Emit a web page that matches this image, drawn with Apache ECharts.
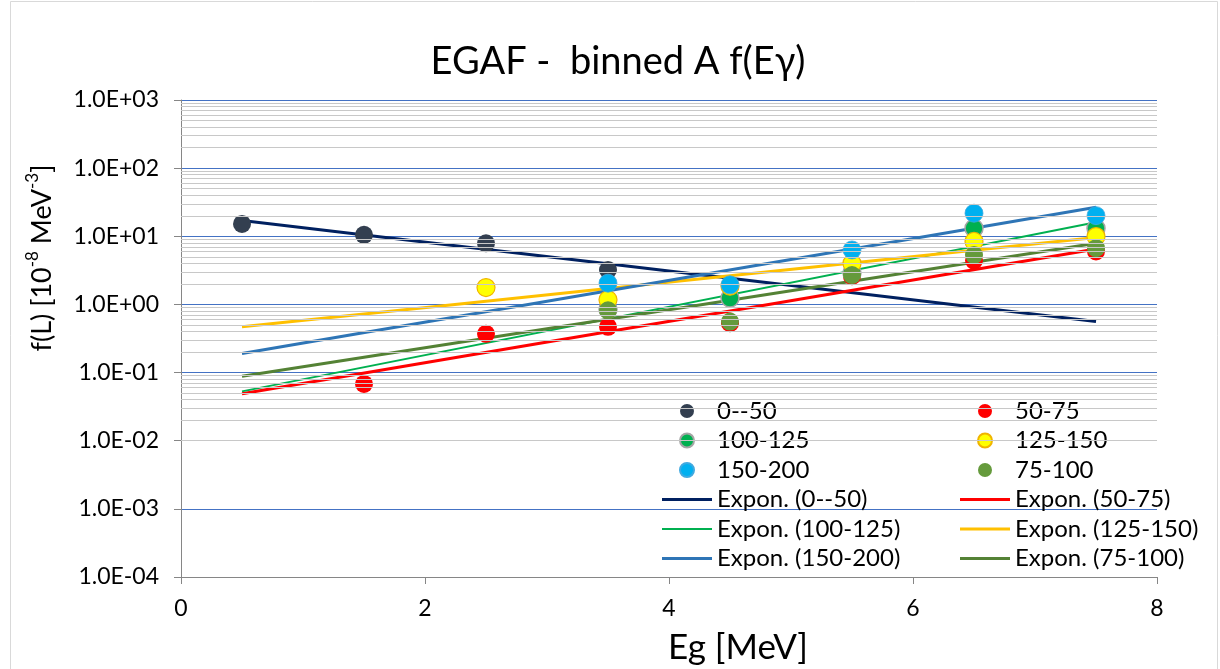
<!DOCTYPE html>
<html>
<head>
<meta charset="utf-8">
<script src="https://cdn.jsdelivr.net/npm/echarts@6/dist/echarts.min.js"></script>
<style>
html,body{margin:0;padding:0;background:#fff;}
#c{width:1220px;height:669px;}
</style>
</head>
<body>
<div id="c"></div>
<script>
// ---- data ----
const titleText = 'EGAF -  binned A f(E\u03b3)';
const xTicks = [0, 2, 4, 6, 8];
const yTickExponents = [-4, -3, -2, -1, 0, 1, 2, 3];

const seriesNames = ['0--50', '50-75', '100-125', '125-150', '150-200', '75-100'];

const eg_0_50 = [0.5, 1.5, 2.5, 3.5];
const f_0_50 = [15.2, 10.5, 7.9, 3.2];

const eg_50_75 = [1.5, 2.5, 3.5, 4.5, 5.5, 6.5, 7.5];
const f_50_75 = [0.068, 0.37, 0.47, 0.53, 2.6, 4.4, 6.0];

const eg_100_125 = [3.5, 4.5, 5.5, 6.5, 7.5];
const f_100_125 = [0.85, 1.24, 2.9, 13.1, 13.1];

const eg_125_150 = [2.5, 3.5, 4.5, 5.5, 6.5, 7.5];
const f_125_150 = [1.77, 1.17, 1.85, 4.0, 8.4, 9.9];

const eg_150_200 = [3.5, 4.5, 5.5, 6.5, 7.5];
const f_150_200 = [2.05, 1.94, 6.3, 21.8, 20.1];

const eg_75_100 = [3.5, 4.5, 5.5, 6.5, 7.5];
const f_75_100 = [0.82, 0.56, 2.7, 5.3, 6.7];

// exponential trend lines: end points (straight on a log axis)
const trendEg = [0.5, 7.5];
const trend_0_50 = [17.0, 0.56];
const trend_50_75 = [0.049, 6.5];
const trend_100_125 = [0.053, 16.1];
const trend_125_150 = [0.47, 9.6];
const trend_150_200 = [0.19, 26.7];
const trend_75_100 = [0.088, 7.9];

// ---- build ----
const FONT = 'Lato';
const zip = (xs, ys) => xs.map((x, i) => [x, ys[i]]);

const markerStyles = {
  '0--50':   {color: '#333F50'},
  '50-75':   {color: '#FF0000'},
  '100-125': {color: '#00B050', borderColor: '#A5A5A5', borderWidth: 1.5},
  '125-150': {color: '#FFFF00', borderColor: '#F0B400', borderWidth: 1.2},
  '150-200': {color: '#00B0F0', borderColor: '#3FA9E0', borderWidth: 0.8},
  '75-100':  {color: '#659A3C'}
};
const trendStyles = {
  '0--50':   {color: '#002060', width: 3},
  '50-75':   {color: '#FF0000', width: 3},
  '100-125': {color: '#00B050', width: 2},
  '125-150': {color: '#FFC000', width: 3},
  '150-200': {color: '#2E75B6', width: 3},
  '75-100':  {color: '#548235', width: 3}
};
const pointData = {
  '0--50': zip(eg_0_50, f_0_50),
  '50-75': zip(eg_50_75, f_50_75),
  '100-125': zip(eg_100_125, f_100_125),
  '125-150': zip(eg_125_150, f_125_150),
  '150-200': zip(eg_150_200, f_150_200),
  '75-100': zip(eg_75_100, f_75_100)
};
const trendData = {
  '0--50': zip(trendEg, trend_0_50),
  '50-75': zip(trendEg, trend_50_75),
  '100-125': zip(trendEg, trend_100_125),
  '125-150': zip(trendEg, trend_125_150),
  '150-200': zip(trendEg, trend_150_200),
  '75-100': zip(trendEg, trend_75_100)
};

// minor gridlines at 2..9 x 10^k (axis styling)
const minorLines = [];
for (let k = yTickExponents[0]; k < yTickExponents[yTickExponents.length - 1]; k++) {
  for (let m = 2; m <= 9; m++) minorLines.push({yAxis: m * Math.pow(10, k)});
}

const series = [];
series.push({
  name: '_minorgrid', type: 'line', data: [], z: 1, silent: true,
  markLine: {
    silent: true, symbol: ['none', 'none'], label: {show: false},
    lineStyle: {color: '#C8C8C8', width: 1, type: 'solid'},
    emphasis: {disabled: true},
    animation: false,
    data: minorLines
  }
});
seriesNames.forEach(n => {
  series.push({
    name: 'Expon. (' + n + ')', type: 'line', data: trendData[n], z: 3,
    symbol: 'none', showSymbol: false, silent: true,
    lineStyle: {color: trendStyles[n].color, width: trendStyles[n].width},
    itemStyle: {color: trendStyles[n].color}
  });
});
seriesNames.forEach(n => {
  series.push({
    name: n, type: 'scatter', data: pointData[n], z: 4,
    symbol: 'circle', symbolSize: 18, silent: true,
    itemStyle: Object.assign({opacity: 1}, markerStyles[n])
  });
});

function fmtExp(v) {
  const e = Math.round(Math.log10(v));
  const sign = e < 0 ? '-' : '+';
  const a = Math.abs(e);
  return '1.0E' + sign + (a < 10 ? '0' + a : a);
}

function legendItem(n) {
  if (n.indexOf('Expon.') === 0) {
    const key = n.slice(8, -1);
    const w = trendStyles[key].width;
    return {name: n, icon: 'path://M0,0H50V' + w + 'H0Z'};
  }
  return {name: n, icon: 'circle'};
}

const legendText = {fontFamily: FONT, fontSize: 24, color: '#000', lineHeight: 24};
const col1 = [seriesNames[0], seriesNames[2], seriesNames[4],
  'Expon. (' + seriesNames[0] + ')', 'Expon. (' + seriesNames[2] + ')', 'Expon. (' + seriesNames[4] + ')'];
const col2 = [seriesNames[1], seriesNames[3], seriesNames[5],
  'Expon. (' + seriesNames[1] + ')', 'Expon. (' + seriesNames[3] + ')', 'Expon. (' + seriesNames[5] + ')'];

const legendBase = {
  orient: 'vertical', top: 399, itemWidth: 50, itemHeight: 14, itemGap: 5.5,
  selectedMode: false, textStyle: legendText, padding: 0, symbolKeepAspect: true
};

const option = {
  animation: false,
  backgroundColor: '#fff',
  grid: {left: 181, right: 63, top: 100, bottom: 92, containLabel: false},
  xAxis: {
    type: 'value', min: xTicks[0], max: xTicks[xTicks.length - 1], interval: 2,
    axisLine: {show: true, lineStyle: {color: '#868686', width: 1}},
    axisTick: {show: true, inside: false, length: 7, lineStyle: {color: '#868686'}},
    axisLabel: {fontFamily: FONT, fontSize: 23, color: '#000', margin: 20},
    splitLine: {show: false}
  },
  yAxis: {
    type: 'log', logBase: 10,
    min: Math.pow(10, yTickExponents[0]), max: Math.pow(10, yTickExponents[yTickExponents.length - 1]),
    interval: 1,
    axisLine: {show: true, lineStyle: {color: '#868686', width: 1}},
    axisTick: {show: true, inside: false, length: 7, lineStyle: {color: '#868686'}},
    axisLabel: {fontFamily: FONT, fontSize: 23, color: '#000', margin: 22, formatter: fmtExp},
    splitLine: {show: true, lineStyle: {color: '#4472C4', width: 1}},
    minorTick: {show: false}, minorSplitLine: {show: false}
  },
  legend: [
    Object.assign({left: 662, data: col1.map(legendItem)}, legendBase),
    Object.assign({left: 960, data: col2.map(legendItem)}, legendBase)
  ],
  graphic: [
    {type: 'rect', silent: true, z: -10,
      shape: {x: 10.5, y: 1.5, width: 1207, height: 700},
      style: {fill: 'none', stroke: '#D9D9D9', lineWidth: 1}},
    {type: 'text', silent: true, x: 618, y: 62,
      style: {text: titleText, align: 'center', verticalAlign: 'middle',
        font: '38px ' + FONT, fill: '#000'}},
    {type: 'text', silent: true, x: 738, y: 648,
      style: {text: 'Eg [MeV]', align: 'center', verticalAlign: 'middle',
        font: '35px ' + FONT, fill: '#000'}},
    {type: 'text', silent: true, x: 40, y: 258, rotation: Math.PI / 2,
      style: {
        text: '{a|f(L) [10}{s|-8}{a| MeV}{s|-3}{a|]}',
        align: 'center', verticalAlign: 'middle',
        rich: {
          a: {fontFamily: FONT, fontSize: 27, fill: '#000', lineHeight: 31, verticalAlign: 'bottom'},
          s: {fontFamily: FONT, fontSize: 17, fill: '#000', lineHeight: 18, verticalAlign: 'top'}
        }
      }}
  ],
  series: series
};

const chart = echarts.init(document.getElementById('c'), null, {renderer: 'canvas'});
chart.setOption(option);
</script>
</body>
</html>
